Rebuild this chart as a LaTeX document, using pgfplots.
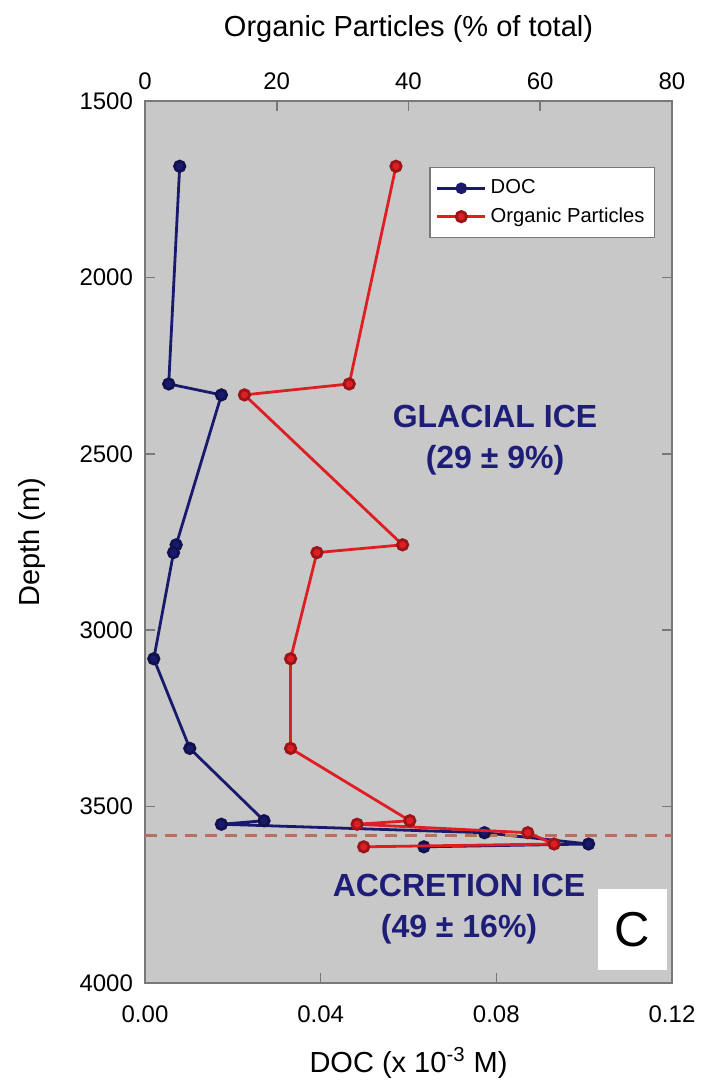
\documentclass[border=0pt]{standalone}
\usepackage{pgfplots}
\pgfplotsset{compat=1.18}
\usepackage{fontspec}
\setmainfont{Liberation Sans}
\definecolor{docblue}{RGB}{25,25,110}
\definecolor{partred}{RGB}{222,30,35}
\definecolor{bggray}{RGB}{200,200,200}
\definecolor{framegray}{RGB}{120,120,120}
\definecolor{navytext}{RGB}{30,30,120}
\definecolor{dashbrown}{RGB}{175,115,95}

\begin{document}
\begin{tikzpicture}
\pgfplotsset{
  common/.style={
    scale only axis,
    width=263.5pt, height=441pt,
    ymin=1500, ymax=4000, y dir=reverse,
    axis line style={framegray, line width=0.8pt},
    tick style={framegray, line width=0.8pt},
    tick align=inside,
    major tick length=5pt,
    tick label style={font=\fontsize{12}{14}\selectfont},
    label style={font=\fontsize{14.5}{17}\selectfont},
    /pgf/number format/assume math mode=true,
    /pgf/number format/set thousands separator={},
  }
}
% DOC on the bottom axis
\begin{axis}[
    common,
    axis background/.style={fill=bggray},
    xmin=0, xmax=0.12,
    xtick={0,0.04,0.08,0.12},
    xticklabel style={/pgf/number format/.cd, fixed, fixed zerofill, precision=2,
      /tikz/.cd, yshift=-8pt},
    yticklabel style={xshift=-2.5pt},
    ytick={1500,2000,...,4000},
    xtick pos=bottom,
    ytick pos=both,
    xlabel={DOC (x 10\textsuperscript{-3} M)},
    ylabel={Depth (m)},
    xlabel style={at={(axis description cs:0.5,-0.0907)}, anchor=center},
    ylabel style={at={(axis description cs:-0.2144,0.5)}, anchor=center},
]
  \coordinate (sw) at (rel axis cs:0,0);
  \coordinate (ne) at (rel axis cs:1,1);
  \addplot[docblue, line width=1.4pt, mark=*, mark size=2.6pt,
           mark options={fill=docblue, draw=docblue!70!black}] coordinates {
    (0.0079,1685) (0.0054,2302) (0.0174,2333) (0.0071,2758) (0.0065,2780)
    (0.0020,3081) (0.0102,3335) (0.0271,3540) (0.0174,3550) (0.0773,3574)
    (0.1010,3606) (0.0635,3614)
  };
  \draw[dashbrown, line width=1.4pt, dash pattern=on 6pt off 4pt]
    (axis cs:0,3583) -- (axis cs:0.12,3583);
  \node[navytext, font=\fontsize{16}{20.5}\selectfont\bfseries, align=center]
    at (axis cs:0.0797,2461) {GLACIAL ICE\\(29 ± 9\%)};
  \node[navytext, font=\fontsize{16}{20.5}\selectfont\bfseries, align=center]
    at (axis cs:0.0715,3792) {ACCRETION ICE\\(49 ± 16\%)};
  \node[fill=white, minimum width=34.5pt, minimum height=40.5pt, inner sep=0pt,
        font=\fontsize{24.5}{26}\selectfont]
    at (axis cs:0.111,3848) {C};
\end{axis}
% Organic particles on the top axis
\begin{axis}[
    common,
    xmin=0, xmax=80,
    xtick={0,20,...,80},
    xticklabel style={yshift=2pt},
    axis x line*=top,
    axis y line=none,
    xlabel={Organic Particles (\% of total)},
    xlabel style={at={(axis description cs:0.5,1.0816)}, anchor=center},
    legend style={at={(0.968,0.925)}, anchor=north east,
      draw=framegray, fill=white, line width=0.6pt,
      font=\fontsize{10.1}{12}\selectfont,
      inner xsep=3pt, inner ysep=4pt, row sep=1.5pt},
    legend cell align=left,
    legend image code/.code={
      \draw[mark repeat=2, mark phase=2] plot coordinates {(0pt,0pt) (12pt,0pt) (24pt,0pt)};
    },
]
  \addlegendimage{docblue, line width=1.4pt, mark=*, mark size=2.2pt,
           mark options={fill=docblue}}
  \addlegendentry{DOC}
  \addplot[partred, line width=1.4pt, mark=*, mark size=2.6pt,
           mark options={fill=partred, draw=partred!70!black}] coordinates {
    (38.1,1685) (31.0,2302) (15.1,2333) (39.1,2758) (26.1,2780)
    (22.1,3081) (22.1,3335) (40.2,3540) (32.2,3550) (58.1,3574)
    (62.1,3606) (33.2,3614)
  };
  \addlegendentry{Organic Particles}
\end{axis}
\pgfresetboundingbox
\path[use as bounding box] ([xshift=-72.5pt,yshift=-50.5pt]sw) rectangle ([xshift=19.5pt,yshift=50.5pt]ne);
\end{tikzpicture}
\end{document}
